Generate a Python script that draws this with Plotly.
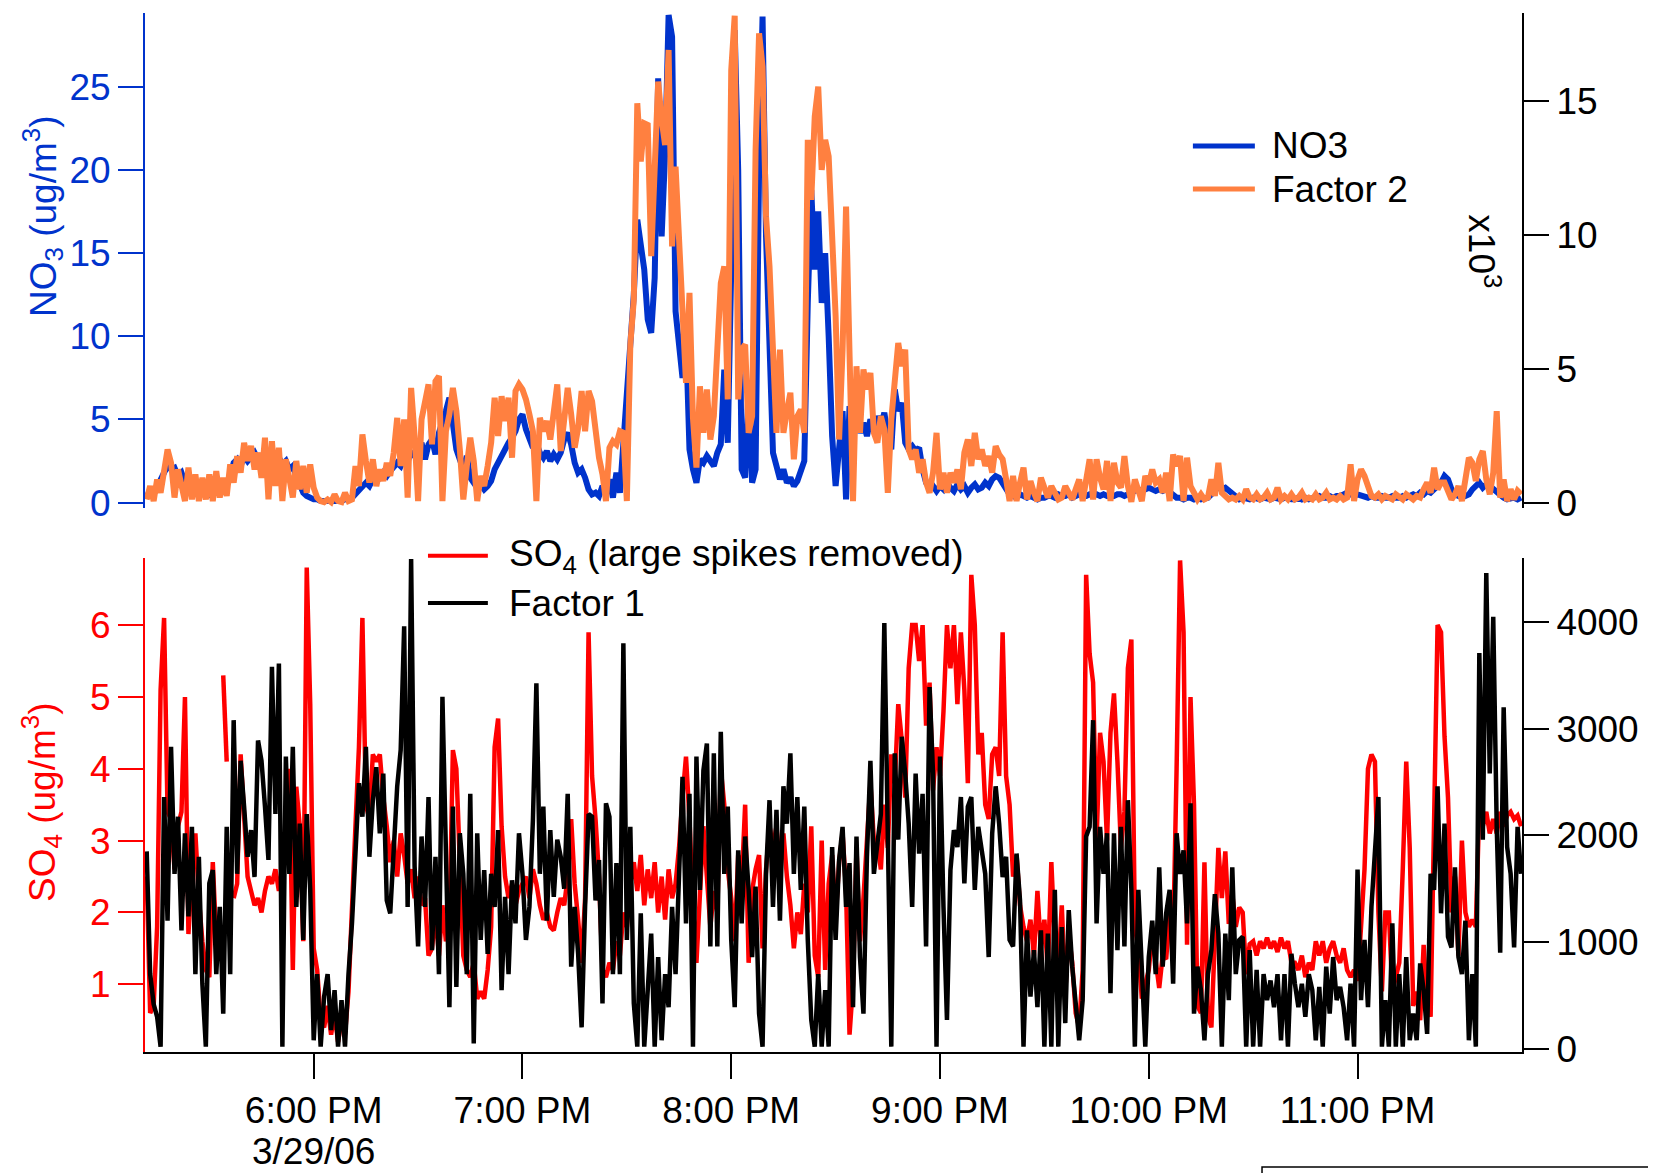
import plotly.graph_objects as go
import pandas as pd

# ---------------- data (1-minute samples starting 17:12, 3/29/06) ----------------
start_time = "2006-03-29 17:12:00"

no3 = [
    0.3, 0.8, 0.5, 1.0, 1.3, 1.8, 2.2, 2.0, 2.1, 1.6, 1.8, 1.2, 0.9, 1.1, 0.7, 0.9, 0.6, 0.8, 0.5, 0.7, 0.9, 1.0, 0.8, 1.2, 1.6, 2.4, 2.6, 2.2, 2.8, 2.5,
    2.7, 3.0, 2.6, 2.9, 2.4, 2.8, 3.1, 2.5, 2.7, 2.3, 2.5, 2.0, 2.2, 1.6, 1.0, 0.6, 0.4, 0.3, 0.2, 0.2, 0.1, 0.1, 0.1, 0.1, 0.1, 0.1, 0.1, 0.2, 0.2, 0.3,
    0.5, 0.8, 1.0, 1.2, 1.0, 1.4, 1.6, 1.5, 1.8, 1.6, 1.9, 2.1, 2.4, 2.2, 2.7, 2.5, 3.0, 2.8, 3.3, 3.6, 2.6, 3.5, 3.8, 2.9, 4.2, 4.8, 5.5, 6.3, 5.0, 3.2,
    2.6, 2.0, 2.8, 1.5, 1.2, 0.9, 1.1, 0.8, 1.0, 1.3, 2.0, 2.4, 2.9, 3.2, 3.6, 3.9, 4.3, 5.0, 5.3, 4.4, 3.7, 3.3, 3.6, 3.0, 2.7, 3.1, 2.5, 2.9, 2.6, 3.0,
    3.8, 4.2, 3.5, 2.4, 1.8, 2.0, 1.5, 0.8, 0.5, 0.6, 0.4, 1.0, 0.5, 1.4, 0.3, 1.8, 0.6, 3.5, 7.0, 10.5, 12.5, 17.0, 15.2, 14.0, 11.0, 10.2, 13.5, 25.5, 16.0, 21.0,
    29.3, 28.0, 11.5, 9.0, 7.5, 10.0, 3.2, 2.0, 1.2, 2.6, 2.4, 2.8, 2.5, 2.2, 3.0, 3.5, 8.0, 3.6, 14.0, 28.4, 20.0, 2.0, 1.5, 7.0, 1.2, 2.0, 20.0, 29.2, 16.0, 9.0,
    3.0, 2.2, 1.4, 2.0, 1.2, 1.5, 1.0, 1.3, 1.8, 2.5, 12.0, 18.8, 14.0, 17.5, 12.0, 15.0, 10.0, 4.0, 1.0, 3.5, 5.5, 0.2, 5.8, 4.5, 5.2, 4.2, 4.8, 4.0, 5.0, 4.3,
    5.2, 4.6, 5.4, 4.0, 3.2, 6.8, 5.5, 6.0, 3.6, 3.2, 3.4, 3.1, 3.3, 2.0, 1.2, 0.9, 1.0, 0.7, 1.0, 0.8, 1.2, 0.9, 0.7, 1.1, 0.8, 1.0, 0.6, 0.9, 1.1, 0.8,
    0.9, 1.2, 1.0, 1.4, 1.6, 1.5, 1.2, 0.8, 0.5, 0.4, 0.3, 0.5, 0.4, 0.3, 0.4, 0.3, 0.2, 0.3, 0.3, 0.4, 0.4, 0.3, 0.5, 0.4, 0.4, 0.5, 0.3, 0.4, 0.5, 0.4,
    0.4, 0.5, 0.4, 0.5, 0.4, 0.5, 0.4, 0.5, 0.4, 0.5, 0.5, 0.4, 0.5, 0.6, 0.7, 0.8, 0.7, 0.8, 0.9, 0.8, 0.7, 0.8, 0.7, 0.8, 0.6, 0.5, 0.3, 0.3, 0.2, 0.3,
    0.3, 0.2, 0.3, 0.2, 0.3, 0.3, 0.5, 0.8, 0.9, 0.8, 0.9, 0.7, 0.5, 0.3, 0.2, 0.3, 0.2, 0.2, 0.3, 0.2, 0.2, 0.3, 0.2, 0.2, 0.3, 0.2, 0.2, 0.3, 0.2, 0.2,
    0.2, 0.3, 0.2, 0.3, 0.2, 0.3, 0.3, 0.4, 0.3, 0.3, 0.4, 0.3, 0.4, 0.4, 0.5, 0.6, 0.5, 0.4, 0.5, 0.4, 0.3, 0.3, 0.4, 0.3, 0.3, 0.4, 0.3, 0.3, 0.4, 0.3,
    0.3, 0.4, 0.3, 0.4, 0.5, 0.4, 0.6, 0.5, 0.7, 0.6, 0.8, 1.0, 1.2, 1.6, 1.4, 0.8, 0.5, 0.4, 0.5, 0.4, 0.5, 0.8, 1.0, 1.2, 0.9, 1.1, 1.0, 0.8, 0.6, 0.4,
    0.3, 0.2, 0.3, 0.3, 0.2, 0.3,
]

factor2 = [
    120, 620, 60, 870, 370, 1240, 1990, 1490, 190, 1240, 750, 60, 1310, 120, 1060, 60, 930, 120, 1060, 60, 1180, 190, 930, 250, 1430, 750, 1740, 1120, 2240, 1560,
    2120, 1240, 1870, 930, 2430, 120, 2300, 620, 2050, 60, 1620, 750, 190, 1560, 500, 1370, 370, 1430, 560, 190, 60, 20, 120, 20, 310, 60, 20, 370, 60, 120,
    1370, 620, 2550, 1560, 750, 1620, 620, 1240, 810, 1490, 1000, 1870, 3170, 1370, 3110, 190, 4290, 2490, 60, 3110, 3920, 4420, 2180, 4540, 4730, 60, 2670, 3300, 4290, 3420,
    1990, 120, 1370, 2430, 1560, 60, 1000, 620, 1370, 2240, 3920, 2490, 3980, 3050, 3920, 1680, 4170, 4420, 4230, 3860, 3300, 2670, 60, 3170, 2670, 3050, 2360, 3300, 4420, 1930,
    3420, 4290, 3300, 2050, 2800, 4170, 2670, 4170, 3790, 2670, 1680, 1060, 60, 2050, 2300, 2180, 2670, 2610, 60, 5910, 7590, 14930, 12750, 14180, 14120, 9210, 12440, 15740, 14310, 13370,
    16920, 9580, 12560, 10080, 7960, 4480, 7840, 3170, 1310, 4350, 2610, 4230, 2360, 3230, 5720, 8210, 8830, 3860, 16170, 18200, 3860, 5720, 5910, 2610, 3230, 13190, 17540, 16300, 10700, 8830,
    5720, 2610, 5720, 2610, 3420, 4110, 1620, 3230, 3480, 2610, 13560, 11320, 14430, 15550, 12440, 13560, 12940, 10080, 6970, 2360, 5720, 11070, 6340, 60, 5100, 2610, 4980, 4230, 4850, 2610,
    2240, 3230, 2740, 370, 3110, 4480, 5970, 5100, 5720, 1990, 1620, 1990, 1120, 1620, 750, 370, 1120, 2610, 500, 1120, 370, 1120, 750, 1240, 500, 1870, 2360, 1370, 2610, 1620,
    1990, 1370, 1740, 1120, 2110, 1800, 1620, 870, 60, 1000, 60, 750, 1310, 120, 810, 370, 60, 930, 500, 190, 620, 310, 120, 190, 620, 370, 120, 500, 870, 60,
    750, 1620, 120, 1620, 930, 500, 1560, 60, 1490, 750, 560, 1740, 620, 30, 870, 500, 60, 1000, 680, 1240, 750, 870, 370, 1120, 60, 1800, 1370, 1740, 60, 1680,
    620, 370, 120, 310, 120, 190, 870, 250, 1490, 370, 250, 120, 190, 120, 250, 120, 500, 190, 120, 310, 120, 190, 370, 120, 190, 560, 120, 250, 120, 310,
    120, 190, 370, 120, 190, 120, 310, 120, 190, 370, 120, 190, 120, 250, 120, 190, 1430, 60, 870, 1240, 1000, 620, 250, 190, 310, 120, 250, 190, 120, 310,
    190, 120, 310, 190, 120, 250, 190, 500, 750, 370, 1310, 500, 750, 750, 370, 120, 310, 620, 60, 750, 1680, 1490, 810, 1620, 1930, 870, 310, 1120, 3420, 190,
    870, 60, 500, 120, 440, 310,
]

so4 = [
    2.5, 0.6, 0.7, 1.8, 5.1, 6.1, 3.4, 3.3, 2.6, 3.2, 3.4, 5.0, 1.7, 2.6, 3.1, 2.2, 1.6, 1.2, 1.1, 2.7, 1.6, None, 5.3, 4.1, None, 2.2, 2.4, 4.2, 3.2, 2.5,
    2.3, 2.1, 2.2, 2.0, 2.3, 2.5, 2.4, 2.6, 2.3, 2.6, 3.0, 4.0, 1.2, 3.75, 3.2, 1.6, 6.8, 4.9, 1.5, 1.2, 0.5, 0.4, 0.7, 0.3, 0.6, 0.2, 0.5, 0.3, 0.9, 1.9,
    3.2, 4.3, 6.1, 3.5, 3.3, 4.2, 4.1, 4.2, 3.6, 3.2, 2.7, 3.0, 2.5, 3.1, 2.8, 2.4, 2.6, 2.2, 2.5, 2.1, 2.2, 1.4, 1.5, 2.0, 1.4, 2.1, 1.6, 1.8, 4.26, 4.0,
    2.8, 1.4, 1.2, 1.1, 1.3, 0.8, 0.9, 0.8, 1.2, 1.8, 4.3, 4.7, 3.2, 2.5, 2.2, 2.4, 2.1, 2.3, 2.4, 2.5, 2.2, 2.6, 2.4, 2.1, 1.9, 2.0, 1.8, 1.75, 2.0, 2.2,
    2.1, 2.5, 3.3, 2.4, 1.9, 1.3, 2.2, 5.9, 3.9, 3.3, 2.5, 1.2, 1.1, 1.3, 1.2, 1.6, 1.4, 2.0, 1.8, 2.4, 2.7, 2.3, 2.8, 2.1, 2.6, 2.2, 2.7, 2.0, 2.5, 1.9,
    2.6, 2.2, 2.4, 2.9, 3.6, 4.17, 3.3, 2.1, 1.3, 2.4, 3.2, 2.5, 1.8, 2.3, 2.0, 4.0, 3.5, 2.6, 2.2, 1.6, 2.8, 2.4, 3.5, 1.3, 2.3, 2.6, 2.8, 1.5, 2.6, 3.2,
    2.9, 3.2, 2.6, 3.1, 2.5, 2.1, 1.5, 2.0, 1.7, 2.4, 2.0, 3.2, 1.4, 1.1, 3.0, 1.2, 2.4, 2.8, 1.9, 2.7, 3.1, 2.3, 0.3, 1.0, 2.9, 1.6, 2.2, 3.0, 3.8, 3.0,
    3.0, 2.6, 3.5, 2.9, 4.2, 3.8, 4.9, 4.4, 3.6, 5.4, 6.0, 6.0, 5.5, 6.0, 4.6, 5.2, 3.7, 4.3, 3.9, 4.8, 6.0, 5.4, 6.0, 4.9, 5.9, 5.1, 3.8, 6.7, 6.0, 4.2,
    4.5, 3.5, 3.3, 4.2, 4.3, 3.9, 5.9, 3.9, 3.5, 2.5, 2.8, 2.1, 1.8, 1.6, 1.9, 1.4, 2.3, 1.5, 1.9, 1.2, 2.7, 1.6, 1.2, 2.1, 0.9, 1.7, 1.3, 0.6, 0.4, 1.2,
    6.7, 5.6, 5.2, 3.0, 4.5, 4.1, 3.0, 4.5, 5.05, 4.1, 2.9, 3.4, 5.4, 5.8, 1.8, 1.5, 0.8, 1.0, 1.2, 1.7, 1.3, 0.95, 1.4, 1.35, 2.0, 1.6, 4.0, 6.9, 5.9, 1.55,
    5.0, 3.5, 0.7, 0.6, 2.7, 0.55, 0.4, 1.6, 2.9, 2.2, 2.85, 1.84, 2.26, 1.8, 2.07, 2.0, 1.14, 1.56, 1.6, 1.4, 1.6, 1.5, 1.65, 1.5, 1.6, 1.45, 1.65, 1.5, 1.6, 1.3,
    1.3, 1.2, 1.4, 1.1, 1.3, 1.2, 1.6, 1.4, 1.6, 1.3, 1.5, 1.6, 1.4, 1.3, 1.5, 1.2, 1.1, 1.2, 1.05, 1.8, 2.6, 4.0, 4.2, 4.1, 2.0, 0.9, 2.0, 2.0, 0.9, 1.1,
    1.3, 2.6, 4.1, 2.9, 0.7, 0.9, 0.5, 1.55, 0.7, 0.55, 3.2, 6.0, 5.9, 4.45, 3.6, 2.0, 2.5, 1.4, 3.0, 2.0, 1.8, 1.9, 1.8, 3.5, 3.2, 3.4, 3.1, 3.3, 3.1, 3.4,
    3.2, 3.35, 3.4, 3.3, 3.35, 3.2,
]

factor1 = [
    1850, 700, 420, 300, 20, 2360, 1200, 2830, 1640, 2175, 1110, 2020, 1240, 2080, 700, 1800, 610, 20, 1550, 1675, 700, 1330, 330, 2080, 700, 3080, 1640, 2700, 2270, 1800,
    2050, 1610, 2890, 2700, 2270, 1770, 3580, 2200, 3610, 20, 2740, 1640, 2830, 1330, 2110, 1020, 2200, 1490, 80, 700, 20, 490, 700, 175, 550, 20, 456, 20, 700, 1175,
    1830, 2490, 2175, 2830, 1800, 2330, 2640, 2020, 2580, 1390, 1270, 1960, 2460, 2800, 3960, 1330, 4590, 1710, 960, 1990, 1330, 2360, 925, 1800, 700, 3300, 1640, 390, 2270, 580,
    2020, 1640, 700, 2390, 50, 2020, 1020, 1675, 890, 1640, 1330, 2050, 550, 1425, 700, 1580, 1175, 2020, 1640, 1020, 1330, 2140, 3425, 1640, 2270, 1200, 2050, 1425, 1960, 1800,
    1500, 2390, 770, 1330, 890, 200, 1330, 2200, 2175, 1390, 1770, 425, 2300, 2175, 700, 1740, 700, 3800, 1020, 2080, 425, 20, 1270, 20, 550, 1080, 20, 860, 80, 700,
    390, 1330, 700, 1580, 2550, 1175, 2390, 20, 2740, 1490, 2610, 2860, 960, 2770, 960, 2970, 1640, 2270, 1020, 390, 1860, 1175, 1990, 1490, 860, 1520, 330, 20, 1640, 2330,
    1330, 2240, 1200, 2460, 2110, 2770, 1640, 2360, 1490, 2270, 1020, 270, 20, 700, 20, 550, 20, 1890, 1020, 1770, 2080, 1330, 1740, 390, 1990, 860, 330, 1800, 2700, 1640,
    1960, 2200, 3990, 1640, 20, 2770, 1960, 2925, 2580, 2110, 1330, 2580, 1830, 2390, 960, 3390, 2580, 20, 2740, 1330, 270, 1675, 2050, 1890, 2360, 1550, 2270, 2360, 1490, 2080,
    1890, 1640, 860, 2020, 2460, 2110, 1610, 1800, 1020, 960, 1830, 1390, 20, 1110, 490, 925, 390, 1110, 20, 1080, 20, 1490, 20, 1140, 240, 1300, 770, 390, 80, 456,
    1990, 2080, 3080, 1175, 2080, 1640, 2020, 520, 2020, 925, 2080, 960, 2330, 1490, 20, 1490, 640, 20, 860, 1200, 700, 1700, 770, 1270, 1490, 610, 2020, 1640, 1860, 1175,
    2300, 330, 770, 550, 80, 700, 925, 1450, 1080, 20, 1080, 456, 1700, 700, 1020, 1050, 20, 925, 20, 740, 20, 700, 456, 640, 390, 700, 80, 700, 20, 890,
    610, 390, 610, 300, 700, 550, 80, 580, 20, 770, 330, 860, 456, 580, 390, 80, 610, 20, 1680, 456, 1020, 390, 1330, 1920, 2360, 20, 456, 20, 1175, 20,
    700, 20, 860, 80, 330, 80, 800, 550, 140, 1640, 1490, 2460, 1270, 2110, 1050, 950, 1700, 860, 700, 1200, 80, 700, 20, 3710, 1960, 4460, 2580, 4050, 2080, 900,
    3200, 1890, 1640, 950, 2080, 1640,
]

times = pd.date_range(start_time, periods=len(no3), freq="1min")

x_range = ["2006-03-29 17:11:31", "2006-03-29 23:47:16"]
x_tick_vals = ["2006-03-29 18:00", "2006-03-29 19:00", "2006-03-29 20:00",
               "2006-03-29 21:00", "2006-03-29 22:00", "2006-03-29 23:00"]
x_tick_text = ["6:00 PM", "7:00 PM", "8:00 PM", "9:00 PM", "10:00 PM", "11:00 PM"]
date_label = "3/29/06"

no3_ticks = [0, 5, 10, 15, 20, 25]
f2_ticks = [0, 5000, 10000, 15000]
f2_tick_text = ["0", "5", "10", "15"]
so4_ticks = [1, 2, 3, 4, 5, 6]
f1_ticks = [0, 1000, 2000, 3000, 4000]

# ---------------- style ----------------
BLUE = "#0033CC"
ORANGE = "#FF8040"
RED = "#FF0000"
BLACK = "#000000"
FONT = "Liberation Sans, Arial, sans-serif"
FS = 37

fig = go.Figure()
fig.add_trace(go.Scatter(x=times, y=no3, mode="lines", name="NO3",
                         line=dict(color=BLUE, width=6), xaxis="x", yaxis="y"))
fig.add_trace(go.Scatter(x=times, y=factor2, mode="lines", name="Factor 2",
                         line=dict(color=ORANGE, width=6), xaxis="x", yaxis="y2"))
fig.add_trace(go.Scatter(x=times, y=so4, mode="lines", name="SO4 (large spikes removed)",
                         line=dict(color=RED, width=4.5), connectgaps=False,
                         xaxis="x", yaxis="y3"))
fig.add_trace(go.Scatter(x=times, y=factor1, mode="lines", name="Factor 1",
                         line=dict(color=BLACK, width=4.5), xaxis="x", yaxis="y4"))


def yax(color, **kw):
    d = dict(showgrid=False, zeroline=False, showline=True, linewidth=2,
             linecolor=color, ticks="outside", ticklen=25, tickwidth=2,
             tickcolor=color, tickfont=dict(family=FONT, size=FS, color=color),
             anchor="x", automargin=False)
    d.update(kw)
    return d


# the page body adds an 8px offset, so the figure is 8px smaller on each axis
fig.update_layout(
    template="none",
    width=1648, height=1165,
    margin=dict(l=137, r=134, t=2, b=121, autoexpand=False),
    paper_bgcolor="white", plot_bgcolor="white",
    showlegend=False,
    font=dict(family=FONT, size=FS, color=BLACK),
    xaxis=dict(domain=[0, 1], anchor="y3", range=x_range, type="date",
               tickmode="array", tickvals=x_tick_vals, ticktext=x_tick_text,
               showgrid=False, zeroline=False, showline=True, linewidth=2,
               linecolor=BLACK, ticks="outside", ticklen=25, tickwidth=2,
               tickcolor=BLACK, ticklabelstandoff=0, automargin=False,
               tickfont=dict(family=FONT, size=FS, color=BLACK)),
    yaxis=yax(BLUE, domain=[0.5224, 0.9968], range=[-0.3, 29.4],
              tickmode="array", tickvals=no3_ticks),
    yaxis2=yax(BLACK, overlaying="y", side="right", range=[-187, 18290],
               tickmode="array", tickvals=f2_ticks, ticktext=f2_tick_text),
    yaxis3=yax(RED, domain=[0, 0.4745], range=[0.058, 6.94],
               tickmode="array", tickvals=so4_ticks),
    yaxis4=yax(BLACK, overlaying="y3", side="right", range=[-30, 4604],
               tickmode="array", tickvals=f1_ticks),
)

# axis titles
annotations = [
    dict(text="NO<sub>3</sub> (ug/m<sup>3</sup>)", x=-0.0748, y=0.8023, textangle=-90,
         font=dict(family=FONT, size=FS, color=BLUE)),
    dict(text="SO<sub>4</sub> (ug/m<sup>3</sup>)", x=-0.0748, y=0.239, textangle=-90,
         font=dict(family=FONT, size=FS, color=RED)),
    dict(text="x10<sup>3</sup>", x=0.972, y=0.768, textangle=90,
         font=dict(family=FONT, size=FS, color=BLACK)),
]
for a in annotations:
    a.update(xref="paper", yref="paper", showarrow=False, xanchor="center", yanchor="middle")

# date line under the first time tick (kept inside the figure's bottom edge)
annotations.append(dict(text=date_label, x=x_tick_vals[0], y=-0.1162, xref="x", yref="paper",
                        showarrow=False, xanchor="center", yanchor="bottom", borderpad=0,
                        font=dict(family=FONT, size=FS, color=BLACK)))

# legends (line samples + labels)
legend_items = [
    ("NO3", BLUE, 5, 0.761, 0.806, 0.817, 0.8695),
    ("Factor 2", ORANGE, 5, 0.761, 0.806, 0.817, 0.8282),
    ("SO<sub>4</sub> (large spikes removed)", RED, 4, 0.2055, 0.249, 0.2629, 0.4763),
    ("Factor 1", BLACK, 4, 0.2055, 0.249, 0.2629, 0.4309),
]
shapes = []
for label, col, w, x0, x1, xt, yy in legend_items:
    shapes.append(dict(type="line", xref="paper", yref="paper", x0=x0, x1=x1, y0=yy, y1=yy,
                       line=dict(color=col, width=w)))
    annotations.append(dict(text=label, x=xt, y=yy, xref="paper", yref="paper",
                            showarrow=False, xanchor="left", yanchor="middle",
                            font=dict(family=FONT, size=FS, color=BLACK)))

# partially visible box at bottom-right
shapes.append(dict(type="rect", xref="paper", yref="paper", x0=0.8112, x1=1.3,
                   y0=-0.1104, y1=-0.4, line=dict(color=BLACK, width=1.5)))

fig.update_layout(annotations=annotations, shapes=shapes)

fig.write_html("out.html")
